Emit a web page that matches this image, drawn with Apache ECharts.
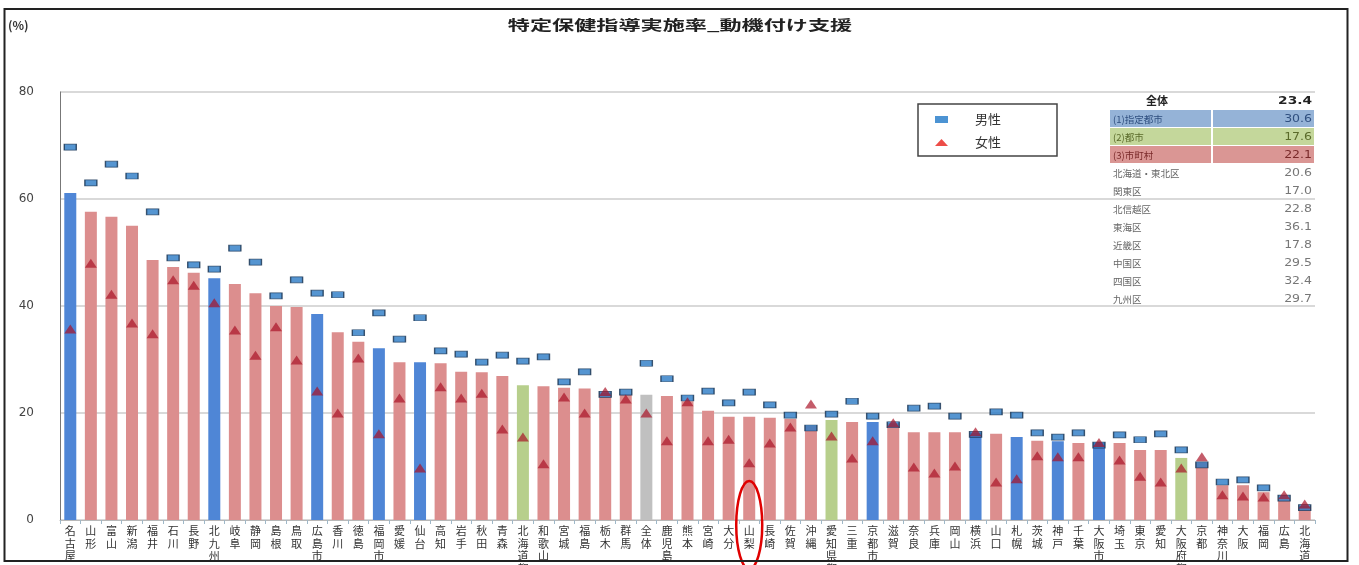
<!DOCTYPE html>
<html>
<head>
<meta charset="utf-8">
<script src="https://cdn.jsdelivr.net/npm/echarts@6/dist/echarts.min.js"></script>
<style>
  html, body { margin: 0; padding: 0; background: #ffffff; }
  #chart { width: 1359px; height: 565px; }
</style>
</head>
<body>
<div id="chart"></div>
<script>
// 特定保健指導実施率（動機付け支援）：組合別・全体／男性／女性
const categories = [
  '名古屋', '山形', '富山', '新潟', '福井', '石川', '長野', '北九州', '岐阜', '静岡',
  '島根', '鳥取', '広島市', '香川', '徳島', '福岡市', '愛媛', '仙台', '高知', '岩手',
  '秋田', '青森', '北海道都市', '和歌山', '宮城', '福島', '栃木', '群馬', '全体', '鹿児島',
  '熊本', '宮崎', '大分', '山梨', '長崎', '佐賀', '沖縄', '愛知県都市', '三重', '京都市',
  '滋賀', '奈良', '兵庫', '岡山', '横浜', '山口', '札幌', '茨城', '神戸', '千葉',
  '大阪市', '埼玉', '東京', '愛知', '大阪府都市', '京都', '神奈川', '大阪', '福岡', '広島',
  '北海道'
];
// d: 指定都市, c: 都市, m: 市町村, t: 全体
const groups = [
  'd', 'm', 'm', 'm', 'm', 'm', 'm', 'd', 'm', 'm',
  'm', 'm', 'd', 'm', 'm', 'd', 'm', 'd', 'm', 'm',
  'm', 'm', 'c', 'm', 'm', 'm', 'm', 'm', 't', 'm',
  'm', 'm', 'm', 'm', 'm', 'm', 'm', 'c', 'm', 'd',
  'm', 'm', 'm', 'm', 'd', 'm', 'd', 'm', 'd', 'm',
  'd', 'm', 'm', 'm', 'c', 'm', 'm', 'm', 'm', 'm',
  'm'
];
const totalRate = [
  61.1, 57.6, 56.7, 55.0, 48.6, 47.3, 46.2, 45.2, 44.1, 42.4,
  40.0, 39.8, 38.5, 35.1, 33.3, 32.1, 29.5, 29.5, 29.3, 27.7,
  27.6, 26.9, 25.2, 25.0, 24.7, 24.6, 23.8, 23.5, 23.4, 23.2,
  22.2, 20.4, 19.3, 19.3, 19.1, 18.9, 17.6, 18.7, 18.3, 18.3,
  18.1, 16.4, 16.4, 16.4, 16.3, 16.1, 15.5, 14.8, 14.7, 14.4,
  14.4, 14.4, 13.1, 13.1, 11.6, 10.7, 6.5, 6.5, 5.2, 3.7,
  2.6
];
const maleRate = [
  69.7, 63.0, 66.5, 64.3, 57.6, 49.0, 47.7, 46.9, 50.8, 48.2,
  41.9, 44.9, 42.4, 42.1, 35.0, 38.7, 33.8, 37.8, 31.6, 31.0,
  29.5, 30.8, 29.7, 30.5, 25.8, 27.7, 23.5, 23.9, 29.3, 26.4,
  22.8, 24.1, 21.9, 23.9, 21.5, 19.6, 17.2, 19.8, 22.2, 19.4,
  17.8, 20.9, 21.3, 19.4, 16.0, 20.2, 19.6, 16.3, 15.5, 16.3,
  14.0, 15.9, 15.0, 16.1, 13.1, 10.3, 7.1, 7.5, 6.0, 4.1,
  2.3
];
const femaleRate = [
  35.7, 48.0, 42.2, 36.8, 34.8, 44.9, 43.9, 40.6, 35.5, 30.8,
  36.1, 29.9, 24.1, 20.0, 30.3, 16.1, 22.8, 9.7, 24.9, 22.8,
  23.7, 17.0, 15.5, 10.5, 23.0, 20.0, 24.0, 22.6, 20.0, 14.8,
  22.1, 14.8, 15.1, 10.7, 14.4, 17.4, 21.7, 15.7, 11.6, 14.8,
  18.2, 9.9, 8.8, 10.1, 16.5, 7.1, 7.7, 12.0, 11.8, 11.8,
  14.5, 11.2, 8.2, 7.1, 9.7, 11.8, 4.7, 4.5, 4.3, 4.7,
  3.0
];
const summaryLabels = [
  '全体', '(1)指定都市', '(2)都市', '(3)市町村',
  '北海道・東北区', '関東区', '北信越区', '東海区', '近畿区', '中国区', '四国区', '九州区'
];
const summaryValues = [23.4, 30.6, 17.6, 22.1, 20.6, 17.0, 22.8, 36.1, 17.8, 29.5, 32.4, 29.7];
const highlightedName = '山梨';

const FONT = '"Noto Sans CJK JP", "Noto Sans", sans-serif';
const groupColors = { d: '#4f86d6', c: '#b7cf8c', m: '#dc8e8e', t: '#c0c0c0' };
const rowFills = [null, '#95b3d7', '#c4d79b', '#da9694'];
const rowText = [null, '#2f4f7f', '#5a6a2a', '#7a2a2a'];

const chart = echarts.init(document.getElementById('chart'), null, { renderer: 'canvas' });

// summary table drawn at the upper right of the plot
function summaryTable() {
  const els = [];
  const xL = 1110, xMid = 1212, xR = 1314, top0 = 101, pitch = 18;
  summaryLabels.forEach((lab, i) => {
    const cy = top0 + i * pitch;
    if (rowFills[i]) {
      els.push({ type: 'rect', silent: true, z: 5,
        shape: { x: xL, y: cy - 9, width: xMid - xL - 1, height: pitch - 1 },
        style: { fill: rowFills[i] } });
      els.push({ type: 'rect', silent: true, z: 5,
        shape: { x: xMid + 1, y: cy - 9, width: xR - xMid - 1, height: pitch - 1 },
        style: { fill: rowFills[i] } });
    }
    const header = i === 0;
    els.push({ type: 'text', silent: true, z: 6,
      x: header ? 1157 : xL + 3, y: cy,
      style: { text: lab, fontFamily: FONT, fontSize: header ? 11 : 9.5,
        fontWeight: header ? 'bold' : 'normal',
        fill: rowText[i] || (header ? '#222' : '#666'),
        textAlign: header ? 'center' : 'left', textVerticalAlign: 'middle' } });
    els.push({ type: 'text', silent: true, z: 6,
      x: xR - 2, y: cy, scaleX: 1.25,
      style: { text: summaryValues[i].toFixed(1), fontFamily: '"DejaVu Sans", sans-serif',
        fontSize: header ? 11 : 10, fontWeight: header ? 'bold' : 'normal',
        fill: rowText[i] || (header ? '#222' : '#777'),
        textAlign: 'right', textVerticalAlign: 'middle' } });
  });
  return els;
}

const option = {
  animation: false,
  backgroundColor: '#ffffff',
  grid: { left: 60, right: 44, top: 92, bottom: 45, containLabel: false, outerBoundsMode: 'none' },
  legend: {
    left: 918, top: 104, orient: 'vertical',
    padding: [9, 56, 7, 17], itemGap: 10, itemWidth: 13, itemHeight: 7,
    borderColor: '#444', borderWidth: 1.5, backgroundColor: '#ffffff',
    selectedMode: false,
    textStyle: { fontFamily: FONT, fontSize: 13, color: '#333', padding: [0, 0, 0, 22] },
    data: [
      { name: '男性', icon: 'rect', itemStyle: { color: '#1f78c8', borderWidth: 0 } },
      { name: '女性', icon: 'triangle', itemStyle: { color: '#e8201a', borderWidth: 0 } }
    ]
  },
  xAxis: {
    type: 'category',
    data: categories,
    boundaryGap: true,
    axisLine: { show: true, lineStyle: { color: '#b8b8b8', width: 1 } },
    axisTick: { show: true, length: 4, lineStyle: { color: '#9fb8c8' } },
    axisLabel: {
      interval: 0, margin: 5, fontFamily: FONT, fontSize: 11, lineHeight: 12.5,
      color: '#333', verticalAlign: 'top',
      formatter: v => v.split('').join('\n')
    }
  },
  yAxis: {
    type: 'value', min: 0, max: 80, interval: 20,
    axisLine: { show: true, lineStyle: { color: '#777', width: 1 } },
    axisTick: { show: false },
    splitLine: { show: true, lineStyle: { color: '#d9d9d9', width: 2 } },
    axisLabel: { margin: 26, fontFamily: '"DejaVu Sans", sans-serif', fontSize: 12, color: '#444' }
  },
  series: [
    {
      name: '全体', type: 'bar', barWidth: 12, silent: true, z: 2,
      data: totalRate.map((v, i) => ({ value: v, itemStyle: { color: groupColors[groups[i]] } }))
    },
    {
      name: '男性', type: 'scatter', symbol: 'rect', symbolSize: [12, 6], silent: true, z: 3,
      itemStyle: { color: '#2a7ac6', borderColor: '#17314f', borderWidth: 1 },
      data: maleRate
    },
    {
      name: '女性', type: 'scatter', symbol: 'triangle', symbolSize: [12, 9], silent: true, z: 4,
      itemStyle: { color: 'rgba(168,16,36,0.85)' },
      data: femaleRate
    }
  ],
  graphic: [
    { type: 'rect', silent: true, z: 20,
      shape: { x: 4.5, y: 9, width: 1343, height: 552 },
      style: { fill: 'none', stroke: '#222', lineWidth: 2 } },
    { type: 'text', silent: true, z: 10, x: 8, y: 25,
      style: { text: '(%)', fontFamily: FONT, fontSize: 12, fontWeight: 'bold', fill: '#333',
        textVerticalAlign: 'middle' } },
    { type: 'text', silent: true, z: 10, x: 680, y: 25, scaleX: 1.58,
      style: { text: '特定保健指導実施率_動機付け支援', fontFamily: FONT, fontSize: 14,
        fontWeight: 'bold', fill: '#222', textAlign: 'center', textVerticalAlign: 'middle' } }
  ].concat(summaryTable())
};

chart.setOption(option);

// ring around the highlighted category label
const hiIndex = categories.indexOf(highlightedName);
const hiX = chart.convertToPixel({ xAxisIndex: 0 }, hiIndex);
const baseY = chart.convertToPixel({ yAxisIndex: 0 }, 0);
chart.setOption({
  graphic: option.graphic.concat([{
    type: 'ellipse', silent: true, z: 15,
    shape: { cx: hiX, cy: baseY + 5, rx: 13, ry: 44 },
    style: { fill: 'none', stroke: '#e00000', lineWidth: 2.5 }
  }])
});
</script>
</body>
</html>
